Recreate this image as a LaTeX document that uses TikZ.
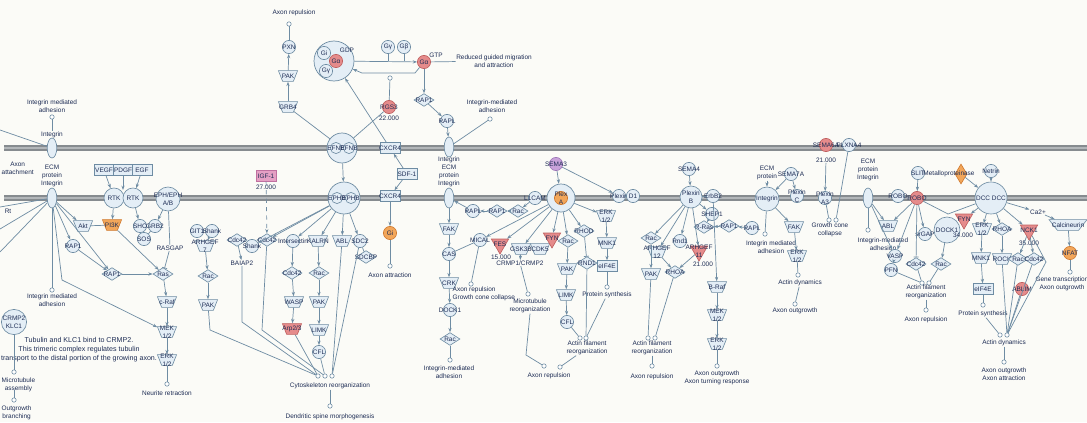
\documentclass[tikz,border=0pt]{standalone}
\usepackage{fontspec}
\setmainfont{Liberation Sans}
\usetikzlibrary{shapes.geometric,arrows.meta}
\definecolor{bg}{HTML}{FBFBF7}
\definecolor{memb}{HTML}{868B8F}
\definecolor{membi}{HTML}{B3B7BA}
\definecolor{edge}{HTML}{6E8CA3}
\definecolor{nfill}{HTML}{E4EEF6}
\definecolor{txt}{HTML}{1E2D55}
\definecolor{redf}{HTML}{E58B8B}
\definecolor{redd}{HTML}{C0605F}
\definecolor{orf}{HTML}{F2A65A}
\definecolor{ord}{HTML}{D07A30}
\definecolor{purf}{HTML}{C8A2DA}
\definecolor{purd}{HTML}{9E78B8}
\definecolor{pkf}{HTML}{E5A0C4}
\definecolor{pkd}{HTML}{C070A0}
\newcommand\fnt{\fontsize{4.6}{5.6}\selectfont}
\newcommand\fntb{\fontsize{5.05}{6.4}\selectfont}
\begin{document}
\begin{tikzpicture}[x=0.25mm,y=-0.25mm,
 lab/.style={font=\fnt, text=txt, align=center, inner sep=0pt},
 lbl/.style={font=\fnt, text=txt, align=center, inner sep=0.3pt},
 base/.style={draw=edge, fill=nfill, line width=0.45pt, inner sep=0.4pt, label={[lab]center:#1}},
 mol/.style={base=#1, circle, minimum size=3.3mm},
 kin/.style={base=#1, trapezium, trapezium left angle=68, trapezium right angle=68, shape border rotate=180, trapezium stretches=true, minimum width=4.8mm, minimum height=2.7mm},
 dia/.style={base=#1, diamond, minimum width=5mm, minimum height=3.2mm},
 rec/.style={base=#1, rectangle, minimum width=5mm, minimum height=2.7mm},
 tri/.style={base=#1, regular polygon, regular polygon sides=3, shape border rotate=180, minimum size=5mm},
 igr/.style={draw=edge, fill=nfill, line width=0.45pt, ellipse, minimum width=2.4mm, minimum height=5mm, inner sep=0.4pt},
 bigc/.style={draw=edge, fill=nfill, line width=0.5pt, circle, minimum size=#1, inner sep=0.4pt},
 endc/.style={circle, draw=edge, fill=white, line width=0.4pt, minimum size=1.1mm, inner sep=0pt},
 redn/.style={fill=redf, draw=redd},
 orn/.style={fill=orf, draw=ord},
 purn/.style={fill=purf, draw=purd},
 pkn/.style={fill=pkf, draw=pkd},
 ln/.style={draw=edge, line width=0.5pt},
 ar/.style={ln, -{Stealth[length=1.1mm,width=0.8mm]}},
 inh/.style={ln, -{Bar[width=1.3mm]}}]
\useasboundingbox (0,0) rectangle (1087,422);
\clip (0,0) rectangle (1087,422);
\fill[bg] (0,0) rectangle (1087,422);
\foreach \yy in {148,198} {
  \draw[line width=1.45mm, draw=memb] (4,\yy) -- (1087,\yy);
  \draw[line width=0.35mm, draw=membi] (4,\yy) -- (1087,\yy);
}
% ================= left =================
\node[lbl] (tIma1) at (52,106) {Integrin mediated\\adhesion};
\node[endc] (cIma1) at (52,117) {};
\node[lbl] (tInt1) at (52,135) {Integrin};
\node[igr] (int1) at (52,148) {};
\node[lbl, anchor=west, align=center] (tAxAt) at (1,168) {Axon\\attachment};
\node[lbl] (tEcm1) at (52,176) {ECM\\protein\\Integrin};
\node[igr] (int2) at (52,198) {};
\node[lbl] (tRt) at (8,211) {Rt};
\coordinate (L1) at (0,130); \coordinate (L2) at (0,207);
\coordinate (L3) at (0,229); \coordinate (L4) at (0,252);
\node[rec=VEGF] (vegf) at (104,170) {};
\node[rec=PDGF] (pdgf) at (123,170) {};
\node[rec=EGF] (egf) at (142,170) {};
\node[mol=RTK, minimum size=5mm] (rtka) at (114,198) {};
\node[mol=RTK, minimum size=5mm] (rtkb) at (133,198) {};
\node[mol={EPH/EPH\\A/B}, minimum size=6mm] (eph) at (168,199) {};
\node[kin=Akt] (akt) at (83,226) {};
\node[kin=PI3K, orn] (pi3k) at (112,225) {};
\node[mol=SHC] (shc) at (140,226) {};
\node[mol=GRB2] (grb2) at (155,226) {};
\node[mol=SOS] (sos) at (144,239) {};
\node[lbl] (rasgap) at (170,248) {RASGAP};
\node[mol=RAP1] (rap1a) at (73,246) {};
\node[dia=RAP1] (rap1b) at (112,274) {};
\node[dia=Ras] (ras1) at (163,274) {};
\node[kin=c-Raf] (craf) at (167,302) {};
\node[kin={MEK\\1/2}] (mek1) at (167,332) {};
\node[kin={ERK\\1/2}] (erk1) at (167,360) {};
\node[endc] (cNr) at (167,384) {};
\node[lbl] (tNr) at (167,393) {Neurite retraction};
\node[endc] (cIma2) at (52,290) {};
\node[lbl] (tIma2) at (52,300) {Integrin mediated\\adhesion};
\node[mol={CRMP2\\KLC1}, minimum size=6.3mm] (crmp) at (14,322) {};
\node[lbl, font=\fntb] (tTub) at (79,350) {Tubulin and KLC1 bind to CRMP2.\\This trimeric complex regulates tubulin\\transport to the distal portion of the growing axon.};
\node[endc] (cMt) at (14,372) {};
\node[lbl, anchor=north west] (tMt) at (1,377) {Microtubule\\assembly};
\node[endc] (cOb) at (14,400) {};
\node[lbl, anchor=north west] (tOb) at (1,405) {Outgrowth\\branching};
\node[mol=GIT1] (git1) at (197,231) {};
\node[mol=Shank] (shank1) at (212,231) {};
\node[kin={ARHGEF\\7}] (arhgef7) at (205,246) {};
\node[dia=Rac] (rac1) at (208,276) {};
\node[kin=PAK] (pak1) at (208,305) {};
\node[dia=Cdc42] (cdc42a) at (237,240) {};
\node[mol=Shank] (shank2) at (252,246) {};
\node[lbl] (baiap2) at (242,263) {BAIAP2};
\node[rec=IGF-1, pkn] (igf1) at (266,176) {};
\node[lbl] (tIgf) at (266,187) {27.000};
\node[dia=Cdc42] (cdc42b) at (267,240) {};
\draw[ln] (L1) -- (int1); \draw[ln] (L2) -- (int2); \draw[ln] (L3) -- (int2); \draw[ln] (int2) -- (L4);
\draw[ln] (cIma1) -- (tInt1);
\draw[ar] (vegf) -- (rtka); \draw[ar] (pdgf) -- (123,190); \draw[ar] (egf) -- (rtkb);
\draw[ar] (rtka) -- (pi3k); \draw[ar] (rtkb) -- (shc); \draw[ar] (eph) -- (grb2);
\draw[ln] (grb2) -- (sos); \draw[ln] (eph) -- (rasgap); \draw[inh] (rasgap) -- (ras1);
\draw[ln] (pi3k) -- (akt); \draw[ar] (pi3k) -- (ras1);
\draw[ar] (int2) -- (akt); \draw[ar] (int2) -- (rap1a); \draw[ar] (int2) -- (rap1b);
\draw[ar] (rap1a) -- (rap1b); \draw[ar] (rap1b) -- (ras1);
\draw[ln] (int2) -- (cIma2);
\draw[ar] (int2) -- (62,280) -- (mek1);
\draw[ar] (ras1) -- (craf); \draw[ar] (craf) -- (mek1); \draw[ar] (mek1) -- (erk1); \draw[ln] (erk1) -- (cNr);
\draw[ln] (crmp) -- (cMt); \draw[ln] (14,390) -- (cOb);
\draw[ar] (shank1) -- (arhgef7); \draw[ar] (arhgef7) -- (rac1); \draw[ar] (rac1) -- (pak1);
\draw[ar] (cdc42a) -- (baiap2);
\draw[ar, dashed] (igf1) -- (cdc42b);
% ================= middle top =================
\node[lbl] (tAr) at (294,13) {Axon repulsion};
\node[endc] (cAr) at (289,24) {};
\node[mol=PXN] (pxn) at (289,47) {};
\node[kin=PAK] (pak2) at (288,76) {};
\node[kin=GRB4] (grb4) at (288,107) {};
\node[bigc=10mm] (gcx) at (334,61) {};
\node[mol=Gi] (gi1) at (324,53) {};
\node[mol=Gα, redn] (ga1) at (336,61) {};
\node[mol=Gγ] (gy1) at (326,71) {};
\node[lbl] (tGdp) at (347,50) {GDP};
\node[mol=Gγ] (gy2) at (388,47) {};
\node[mol=Gβ] (gb2) at (404,47) {};
\node[mol=Gα, redn] (ga2) at (424,62) {};
\node[lbl] (tGtp) at (436,55) {GTP};
\node[lbl] (tRgm) at (494,61) {Reduced guided migration\\and attraction};
\node[mol=RGS3, redn] (rgs3) at (389,107) {};
\node[lbl] (tRgs) at (389,118) {22.000};
\node[endc] (cRgs) at (390,78) {};
\node[dia=RAP1] (rap1c) at (424,100) {};
\node[mol=RAPL] (rapl1) at (447,121) {};
\node[lbl] (tIma3) at (492,106) {Integrin-mediated\\adhesion};
\node[endc] (cIma3) at (490,119) {};
\node[bigc=7.5mm] (efn1) at (342,148) {};
\node[mol=EFNB, minimum size=2.8mm] (efn1a) at (336,148) {};
\node[mol=EFNB, minimum size=2.8mm] (efn1b) at (349,148) {};
\node[rec=CXCR4] (cxcr4a) at (390,148) {};
\node[igr] (int3) at (449,147) {};
\node[lbl] (tEcm3) at (449,172) {Integrin\\ECM\\protein\\Integrin};
\node[rec=SDF-1] (sdf1) at (407,174) {};
\node[bigc=8mm] (eph2) at (344,198) {};
\node[mol=EPHB, minimum size=2.8mm] (eph2a) at (337,198) {};
\node[mol=EPHB, minimum size=2.8mm] (eph2b) at (351,198) {};
\node[rec=CXCR4] (cxcr4b) at (390,196) {};
\node[igr] (int4) at (449,198) {};
\node[mol=Gi, orn] (gi2) at (390,233) {};
\node[endc] (cAa) at (390,266) {};
\node[lbl] (tAa) at (390,275) {Axon attraction};
\draw[ar] (grb4) -- (pak2); \draw[ar] (pak2) -- (pxn); \draw[ln] (pxn) -- (cAr);
\draw[ar] (gcx) -- (ga2);
\draw[ln] (gy2) -- (388,61); \draw[ln] (gb2) -- (404,61);
\draw[ar] (ga2) -- (415,73) -- (362,73) -- (gcx);
\draw[ln] (rgs3) -- (cRgs);
\draw[ln] (ga2) -- (tRgm);
\draw[ar] (ga2) -- (rap1c); \draw[ar] (rap1c) -- (rapl1); \draw[ar] (rapl1) -- (int3);
\draw[ln] (int3) -- (cIma3);
\draw[ln] (grb4) -- (efn1); \draw[ln] (rgs3) -- (efn1);
\draw[ar] (cxcr4a) -- (gcx);
\draw[ar] (sdf1) -- (cxcr4a); \draw[ar] (sdf1) -- (cxcr4b);
\draw[ar] (cxcr4b) -- (gi2); \draw[ln] (gi2) -- (cAa);
\draw[ar] (efn1) -- (eph2);
% ================= middle bottom =================
\node[mol=Intersectin] (intsn) at (293,241) {};
\node[kin=KALRN] (kalrn) at (318,241) {};
\node[kin=ABL] (abl1) at (342,241) {};
\node[mol=SDC2] (sdc2) at (360,241) {};
\node[dia=SDCBP] (sdcbp) at (366,257) {};
\node[dia=Cdc42] (cdc42c) at (292,273) {};
\node[dia=Rac] (rac2) at (319,273) {};
\node[kin=WASP] (wasp) at (294,302) {};
\node[kin=PAK] (pak3) at (319,302) {};
\node[kin=Arp2/3, redn] (arp) at (292,329) {};
\node[kin=LIMK] (limk1) at (319,330) {};
\node[mol=CFL] (cfl1) at (319,352) {};
\node[endc] (cCr1) at (318,376) {};
\node[endc] (cCr2) at (325,376) {};
\node[endc] (cCr3) at (332,376) {};
\node[lbl] (tCr) at (330,386) {Cytoskeleton reorganization};
\node[endc] (cDs) at (330,406) {};
\node[lbl] (tDs) at (330,417) {Dendritic spine morphogenesis};
\foreach \n in {intsn,kalrn,abl1,sdc2,cdc42b,shank2} {\draw[ar] (eph2) -- (\n);}
\draw[ln] (sdc2) -- (sdcbp);
\draw[ar] (intsn) -- (cdc42c); \draw[ar] (kalrn) -- (rac2);
\draw[ar] (cdc42c) -- (wasp); \draw[ar] (rac2) -- (pak3);
\draw[ar] (wasp) -- (arp); \draw[ar] (pak3) -- (limk1); \draw[ar] (limk1) -- (cfl1);
\draw[ln] (arp) -- (cCr1); \draw[ln] (cfl1) -- (cCr2);
\draw[ln] (abl1) -- (cCr3); \draw[ln] (sdc2) -- (cCr3);
\draw[ln] (pak1) -- (210,330) -- (cCr1);
\draw[ln] (baiap2) -- (242,322) -- (cCr1);
\draw[ln] (cdc42b) -- (262,330) -- (cCr2);
\draw[ln] (tCr) -- (cDs);
% ================= integrin column =================
\node[kin=FAK] (fak1) at (449,229) {};
\node[mol=CAS] (cas) at (449,254) {};
\node[kin=CRK] (crk) at (449,283) {};
\node[mol=DOCK1] (dock1) at (450,310) {};
\node[dia=Rac] (rac3) at (450,339) {};
\node[endc] (cIma4) at (450,360) {};
\node[lbl] (tIma4) at (449,372) {Integrin-mediated\\adhesion};
\node[mol=RAPL] (rapl2) at (473,211) {};
\node[dia=RAP1] (rap1d) at (497,211) {};
\node[dia=Rac] (rac4) at (518,211) {};
\node[mol=L1CAM] (l1cam) at (535,198) {};
\node[mol=MICAL] (mical) at (480,240) {};
\node[tri=FES, redn] (fes) at (500,244) {};
\node[lbl] (tFes) at (501,257) {15.000};
\node[kin=GSK3B] (gsk3b) at (521,249) {};
\node[kin=CDK5] (cdk5) at (540,249) {};
\node[lbl] (crmp12) at (520,263) {CRMP1/CRMP2};
\node[endc] (cAg) at (471,284) {};
\node[lbl, anchor=north west, align=left] (tAg) at (452,286) {Axon repulsion\\Growth cone collapse};
\node[endc] (cMr) at (528,294) {};
\node[lbl] (tMr) at (530,306) {Microtubule\\reorganization};
\draw[ar] (int4) -- (fak1); \draw[ar] (fak1) -- (cas); \draw[ar] (cas) -- (crk);
\draw[ar] (crk) -- (dock1); \draw[ar] (dock1) -- (rac3); \draw[ln] (rac3) -- (cIma4);
\draw[ar] (l1cam) -- (rac4); \draw[ar] (rac4) -- (rap1d); \draw[ar] (rap1d) -- (rapl2); \draw[ar] (rapl2) -- (int4);
\draw[ln] (mical) -- (cas); \draw[ln] (mical) -- (cAg);
\draw[ar] (gsk3b) -- (crmp12); \draw[ln] (crmp12) -- (cMr);
% ================= plexin A / D1 =================
\node[mol=SEMA3, purn] (sema3) at (556,164) {};
\node[bigc=7mm] (plxa) at (561,198) {};
\node[mol={Plex\\A}, orn] (plxai) at (561,198) {};
\node[mol=Plexin] (plxd1a) at (619,196) {};
\node[mol=D1] (plxd1b) at (633,196) {};
\node[tri=FYN, redn] (fyn1) at (552,238) {};
\node[dia=Rac] (rac5) at (568,241) {};
\node[kin=PAK] (pak4) at (567,269) {};
\node[kin=LIMK] (limk2) at (566,295) {};
\node[mol=CFL] (cfl2) at (567,322) {};
\node[dia=RHOD] (rhod) at (584,231) {};
\node[dia=RND1] (rnd1) at (587,263) {};
\node[kin={ERK\\1/2}] (erk2) at (606,216) {};
\node[kin=MNK1] (mnk1a) at (607,243) {};
\node[rec=eIF4E] (eif1) at (607,266) {};
\node[endc] (cPs1) at (607,287) {};
\node[lbl] (tPs1) at (607,295) {Protein synthesis};
\node[endc] (cAf1a) at (580,338) {};
\node[endc] (cAf1b) at (586,338) {};
\node[lbl] (tAf1) at (587,348) {Actin filament\\reorganization};
\node[endc] (cRp1a) at (544,366) {};
\node[endc] (cRp1b) at (560,367) {};
\node[lbl] (tRp1) at (549,376) {Axon repulsion};
\draw[ar] (sema3) -- (plxa); \draw[ar] (sema3) -- (plxd1a);
\foreach \n in {fyn1,rac5,rhod,erk2,mical,fes,gsk3b} {\draw[ar] (plxa) -- (\n);}
\draw[ar] (rac5) -- (pak4); \draw[ar] (pak4) -- (limk2); \draw[ar] (limk2) -- (cfl2);
\draw[ln] (cfl2) -- (cAf1a);
\draw[inh] (rhod) -- (rnd1); \draw[ln] (rnd1) -- (cAf1b); \draw[ln] (tPs1) -- (cAf1b);
\draw[ar] (erk2) -- (mnk1a); \draw[ar] (mnk1a) -- (eif1); \draw[ln] (eif1) -- (cPs1);
\draw[ln] (tAf1) -- (cRp1b);
\draw[ln] (tMr.south) -- (526,355) -- (cRp1a);
% ================= plexin B =================
\node[mol=SEMA4] (sema4) at (689,169) {};
\node[mol={Plexin\\B}, minimum size=5.5mm] (plxb) at (691,197) {};
\node[mol=ErbB2] (erbb2) at (713,196) {};
\node[mol=SHEP1] (shep1) at (712,214) {};
\node[dia=R-Ras] (rras) at (704,227) {};
\node[dia=RAP1] (rap1e) at (729,226) {};
\node[mol=RAPL] (rapl3) at (752,228) {};
\node[dia=Rac] (rac6) at (651,238) {};
\node[mol=Rnd1] (rnd1b) at (680,241) {};
\node[kin={ARHGEF\\12}] (ag12) at (657,252) {};
\node[tri={ARHGEF\\11}, redn] (ag11) at (699,251) {};
\node[lbl] (tAg11) at (703,264) {21.000};
\node[kin=PAK] (pak5) at (651,274) {};
\node[dia=RHOA] (rhoa1) at (675,272) {};
\node[endc] (cAf2a) at (648,338) {};
\node[endc] (cAf2b) at (655,338) {};
\node[lbl] (tAf2) at (652,348) {Actin filament\\reorganization};
\node[endc] (cRp2) at (652,366) {};
\node[lbl] (tRp2) at (652,377) {Axon repulsion};
\node[kin=B-Raf] (braf) at (717,287) {};
\node[kin={MEK\\1/2}] (mek3) at (717,315) {};
\node[kin={ERK\\1/2}] (erk3) at (717,344) {};
\node[endc] (cAo3) at (717,366) {};
\node[lbl] (tAo3) at (717,378) {Axon outgrowth\\Axon turning response};
\draw[ar] (sema4) -- (plxb); \draw[ln] (plxb) -- (erbb2);
\foreach \n in {rac6,rnd1b,ag12,ag11,shep1} {\draw[ar] (plxb) -- (\n);}
\draw[ar] (shep1) -- (rras); \draw[ar] (rap1e) -- (rras); \draw[ar] (rapl3) -- (rap1e);
\draw[ar] (rac6) -- (pak5); \draw[ar] (ag12) -- (rhoa1); \draw[ar] (ag11) -- (rhoa1);
\draw[ln] (pak5) -- (cAf2a); \draw[ln] (rhoa1) -- (cAf2b); \draw[ln] (tAf2) -- (cRp2);
\draw[ar] (erbb2) -- (braf); \draw[ar] (braf) -- (mek3); \draw[ar] (mek3) -- (erk3); \draw[ln] (erk3) -- (cAo3);
% ================= SEMA7A =================
\node[lbl] (tEcm5) at (767,173) {ECM\\protein};
\node[mol=SEMA7A] (sema7a) at (791,174) {};
\node[mol=Integrin, minimum size=6mm] (int5) at (767,199) {};
\node[mol={Plexin\\C}] (plxc) at (797,196) {};
\node[kin=FAK] (fak2) at (794,227) {};
\node[kin={ERK\\1/2}] (erk4) at (797,256) {};
\node[endc] (cIma5) at (765,234) {};
\node[lbl] (tIma5) at (771,247) {Integrin mediated\\adhesion};
\node[endc] (cAd1) at (798,275) {};
\node[lbl] (tAd1) at (800,283) {Actin dynamics};
\node[endc] (cAo1) at (795,304) {};
\node[lbl] (tAo1) at (795,311) {Axon outgrowth};
\draw[ar] (tEcm5) -- (int5); \draw[ar] (sema7a) -- (int5); \draw[ar] (sema7a) -- (plxc);
\draw[ln] (int5) -- (cIma5); \draw[ar] (int5) -- (fak2); \draw[ar] (fak2) -- (erk4);
\draw[ln] (erk4) -- (cAd1); \draw[ln] (tAd1) -- (cAo1);
% ================= SEMA6A =================
\node[mol=SEMA6A, redn] (sema6) at (826,145) {};
\node[lbl] (tS6) at (826,160) {21.000};
\node[mol=PLXNA4] (plxna4) at (849,145) {};
\node[mol={Plexin\\A3}] (plxa3) at (825,198) {};
\node[endc] (cGc1) at (829,220) {};
\node[endc] (cGc2) at (836,220) {};
\node[lbl] (tGc) at (830,230) {Growth cone\\collapse};
\draw[ar] (tS6) -- (plxa3); \draw[ln] (plxa3) -- (cGc1); \draw[ln] (plxna4) -- (cGc2);
% ================= ROBO / DCC =================
\node[igr] (int6) at (868,198) {};
\node[lbl] (tEcm6) at (868,170) {ECM\\protein\\Integrin};
\node[endc] (cIma6) at (868,230) {};
\node[lbl] (tIma6) at (883,244) {Integrin-mediated\\adhesion};
\node[mol=SLIT] (slit) at (918,173) {};
\node[mol=ROBO] (robo1) at (898,196) {};
\node[mol=ROBO, redn] (robo2) at (917,198) {};
\node[kin=ABL] (abl2) at (888,226) {};
\node[mol=VASP] (vasp) at (895,256) {};
\node[mol=PFN] (pfn) at (891,270) {};
\node[mol=srGAP] (srgap) at (925,234) {};
\node[mol=DOCK1, minimum size=6.5mm] (dock2) at (947,230) {};
\node[dia=Cdc42] (cdc42d) at (916,264) {};
\node[dia=Rac] (rac7) at (941,264) {};
\node[endc] (cAf3a) at (922,283) {};
\node[endc] (cAf3b) at (929,283) {};
\node[lbl] (tAf3) at (926,292) {Actin filament\\reorganization};
\node[endc] (cRp3) at (926,310) {};
\node[lbl] (tRp3) at (926,320) {Axon repulsion};
\node[dia, orn, minimum width=3mm, minimum height=5mm] (mmp) at (961,174) {};
\node[lbl] (tMmp) at (949,174) {Metalloproteinase};
\node[mol=Netrin] (netrin) at (991,171) {};
\node[mol={DCC DCC}, minimum size=8mm] (dcc) at (991,198) {};
\node[tri=FYN, redn] (fyn2) at (964,219) {};
\node[lbl] (tFyn2) at (963,235) {34.000};
\node[kin={ERK\\1/2}] (erk5) at (982,229) {};
\node[dia=RHOA] (rhoa2) at (1002,229) {};
\node[tri=NCK1, redn] (nck1) at (1029,230) {};
\node[lbl] (tNck) at (1029,243) {35.000};
\node[kin=MNK1] (mnk1b) at (981,258) {};
\node[kin=ROCK] (rock) at (1002,259) {};
\node[dia=Rac] (rac8) at (1018,259) {};
\node[dia=Cdc42] (cdc42e) at (1034,259) {};
\node[rec=eIF4E] (eif2) at (983,289) {};
\node[endc] (cPs2) at (983,305) {};
\node[lbl] (tPs2) at (983,314) {Protein synthesis};
\node[mol=ABLIM, redn] (ablim) at (1022,289) {};
\node[endc] (cAd2a) at (1000,335) {};
\node[endc] (cAd2b) at (1007,335) {};
\node[lbl] (tAd2) at (1004,343) {Actin dynamics};
\node[endc] (cAo2) at (1004,362) {};
\node[lbl] (tAo2) at (1004,374) {Axon outgrowth\\Axon attraction};
\node[lbl] (ca) at (1038,212) {Ca2+};
\node[kin=Calcineurin, minimum width=9.5mm] (calc) at (1068,225) {};
\node[mol=NFAT, orn] (nfat) at (1070,253) {};
\node[endc] (cGt) at (1070,272) {};
\node[lbl] (tGt) at (1062,284) {Gene transcription\\Axon outgrowth};
\draw[ar] (slit) -- (robo2);
\draw[ln] (int6) -- (cIma6); \draw[ar] (int6) -- (abl2); \draw[ar] (int6) -- (vasp);
\draw[ar] (robo2) -- (abl2); \draw[ar] (robo2) -- (vasp); \draw[ar] (robo2) -- (srgap);
\draw[inh] (robo2) -- (cdc42d);
\draw[ln] (robo2) -- (948,214) -- (dcc);
\draw[ar] (vasp) -- (pfn); \draw[ln] (pfn) -- (cAf3a); \draw[ln] (cdc42d) -- (cAf3a);
\draw[ar] (dock2) -- (rac7); \draw[ln] (rac7) -- (cAf3b); \draw[ln] (tAf3) -- (cRp3);
\draw[ar] (mmp) -- (dcc); \draw[ar] (netrin) -- (dcc);
\foreach \n in {fyn2,erk5,rhoa2,nck1,ca} {\draw[ar] (dcc) -- (\n);}
\draw[ar] (erk5) -- (mnk1b); \draw[ar] (mnk1b) -- (eif2); \draw[ln] (eif2) -- (cPs2);
\draw[ar] (rhoa2) -- (rock); \draw[ar] (nck1) -- (rac8); \draw[ar] (nck1) -- (cdc42e);
\draw[ln] (tPs2) -- (cAd2a); \draw[ln] (rock) -- (cAd2b); \draw[ln] (rac8) -- (cAd2b);
\draw[ln] (cdc42e) -- (cAd2b); \draw[ln] (ablim) -- (cAd2b);
\draw[ln] (nck1) -- (1046,262) -- (cAd2b);
\draw[ln] (tAd2) -- (cAo2);
\draw[ar] (ca) -- (calc); \draw[ar] (calc) -- (nfat); \draw[ln] (nfat) -- (cGt);
\end{tikzpicture}
\end{document}
